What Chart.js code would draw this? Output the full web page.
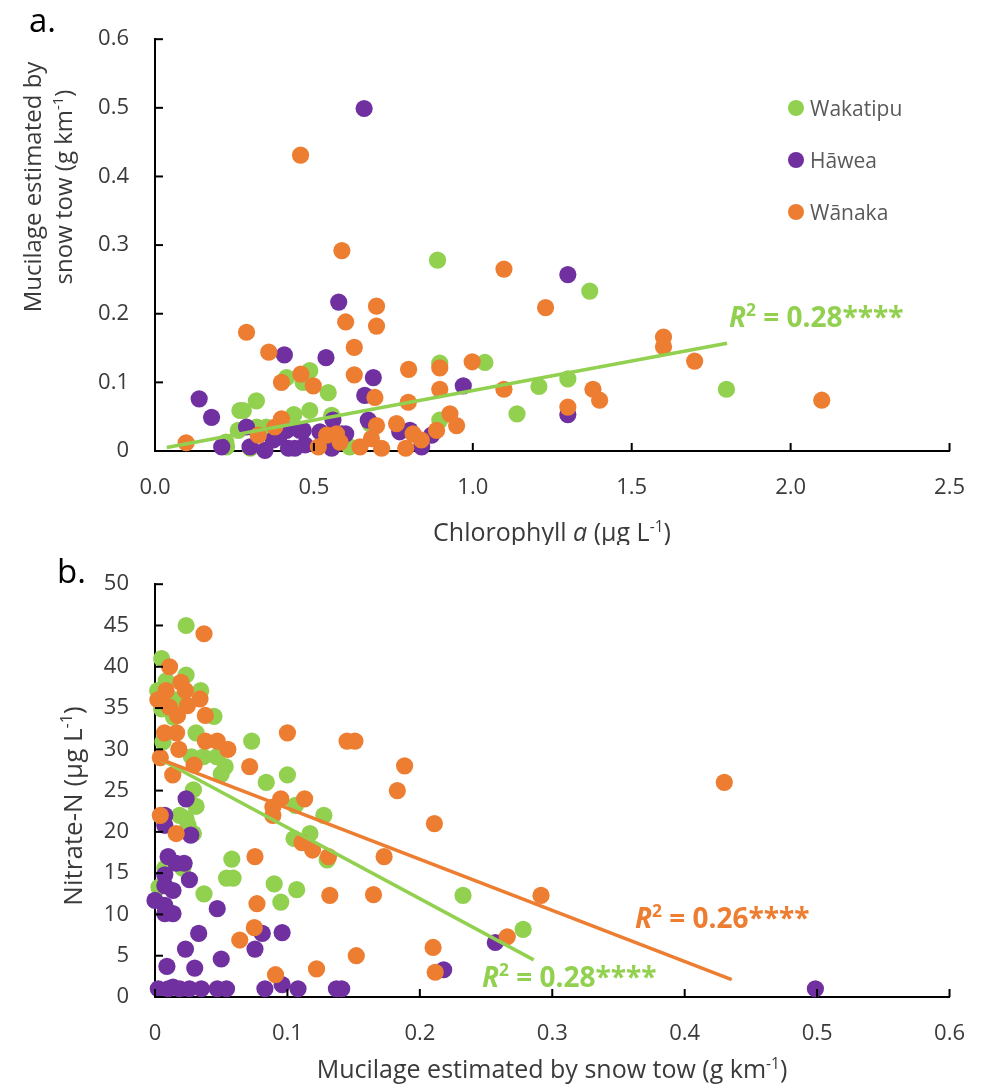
<!DOCTYPE html>
<html>
<head>
<meta charset="utf-8">
<script src="https://cdn.jsdelivr.net/npm/chart.js@4.4.1/dist/chart.umd.min.js"></script>
<style>
  body { margin: 0; background: #fff; }
  #wrap { position: relative; width: 989px; height: 1087px; }
  canvas { position: absolute; left: 0; }
  #chartA { top: 0; }
  #chartB { top: 545px; }
</style>
</head>
<body>
<div id="wrap">
  <canvas id="chartA" width="989" height="545"></canvas>
  <canvas id="chartB" width="989" height="542"></canvas>
</div>
<script>
// colours of the three lakes
const GREEN = '#92D050', PURPLE = '#7030A0', ORANGE = '#ED7D31';
const TEXT = '#3a3a3a';

// ---- panel a: chlorophyll a (x) vs mucilage (y) ----
const aWakatipu = [
  [0.225,0.006],[0.223,0.013],[0.262,0.030],[0.267,0.059],[0.278,0.059],[0.300,0.004],
  [0.319,0.073],[0.320,0.035],[0.350,0.035],[0.414,0.107],[0.437,0.053],[0.466,0.100],
  [0.487,0.117],[0.487,0.059],[0.545,0.085],[0.556,0.052],[0.613,0.006],[0.676,0.040],
  [0.889,0.278],[0.896,0.128],[0.896,0.045],[1.038,0.129],[1.139,0.054],[1.208,0.094],
  [1.299,0.105],[1.368,0.233],[1.798,0.090]
];
const aHawea = [
  [0.139,0.076],[0.178,0.049],[0.210,0.006],[0.288,0.035],[0.299,0.006],[0.346,0.001],
  [0.372,0.016],[0.390,0.020],[0.407,0.140],[0.414,0.030],[0.420,0.004],[0.440,0.004],
  [0.456,0.030],[0.466,0.030],[0.472,0.009],[0.519,0.028],[0.538,0.136],[0.556,0.004],
  [0.560,0.045],[0.578,0.217],[0.587,0.025],[0.600,0.025],[0.658,0.499],[0.660,0.081],
  [0.671,0.045],[0.687,0.107],[0.770,0.028],[0.802,0.030],[0.839,0.006],[0.870,0.023],
  [0.970,0.095],[1.299,0.257],[1.299,0.053]
];
const aWanaka = [
  [0.098,0.012],[0.288,0.173],[0.325,0.023],[0.358,0.144],[0.377,0.035],[0.398,0.100],
  [0.398,0.047],[0.458,0.431],[0.459,0.112],[0.498,0.095],[0.514,0.006],[0.540,0.023],
  [0.571,0.025],[0.582,0.013],[0.588,0.292],[0.600,0.188],[0.627,0.151],[0.627,0.111],
  [0.645,0.006],[0.681,0.018],[0.692,0.078],[0.697,0.211],[0.697,0.182],[0.697,0.037],
  [0.713,0.004],[0.760,0.040],[0.789,0.004],[0.797,0.071],[0.798,0.119],[0.812,0.025],
  [0.838,0.016],[0.886,0.030],[0.896,0.121],[0.896,0.090],[0.928,0.054],[0.949,0.037],
  [0.998,0.130],[1.098,0.265],[1.098,0.090],[1.229,0.209],[1.299,0.064],[1.378,0.090],
  [1.399,0.074],[1.600,0.166],[1.600,0.152],[1.698,0.131],[2.098,0.074]
];
const aTrendWakatipu = [[0.037,0.005],[1.8,0.157]];

// ---- panel b: mucilage (x) vs nitrate-N (y) ----
const bWakatipu = [
  [0.0235,45.0],[0.0050,41.0],[0.0235,39.0],[0.0085,38.3],[0.0020,37.1],[0.0345,37.1],
  [0.0160,36.0],[0.0050,34.9],[0.0140,33.9],[0.0445,34.0],[0.0310,32.0],[0.0060,30.9],
  [0.0730,31.0],[0.0275,29.1],[0.0365,29.1],[0.0465,29.1],[0.0530,27.9],[0.0500,27.0],
  [0.0840,26.0],[0.1000,26.9],[0.0290,25.1],[0.0310,23.1],[0.0186,22.0],[0.0235,21.6],
  [0.0250,20.8],[0.0290,19.8],[0.1060,23.2],[0.1275,22.0],[0.1050,19.2],[0.1170,19.8],
  [0.1300,16.6],[0.0580,16.7],[0.0540,14.4],[0.0590,14.4],[0.0074,15.6],[0.0210,15.6],
  [0.0030,13.3],[0.0370,12.5],[0.0900,13.7],[0.0950,11.5],[0.1070,13.0],[0.2326,12.3],
  [0.2780,8.2]
];
const bHawea = [
  [0.0235,24.0],[0.0074,22.0],[0.0074,20.8],[0.0270,19.6],[0.0099,17.0],[0.0160,16.2],
  [0.0220,16.2],[0.0074,14.8],[0.0260,14.2],[0.0074,13.5],[0.0136,12.9],[0.0000,11.7],
  [0.0074,11.1],[0.0074,10.1],[0.0136,10.1],[0.0470,10.7],[0.0330,7.7],[0.0810,7.7],
  [0.0960,7.8],[0.0230,5.8],[0.0755,5.8],[0.0500,4.6],[0.0090,3.7],[0.0300,3.5],
  [0.0025,1.0],[0.0099,1.0],[0.0136,1.2],[0.0186,1.0],[0.0260,1.0],[0.0350,1.0],
  [0.0470,1.0],[0.0540,1.0],[0.0830,1.0],[0.0960,1.5],[0.1080,1.0],[0.1370,1.0],
  [0.1410,1.0],[0.2180,3.3],[0.2570,6.6],[0.4987,1.0]
];
const bWanaka = [
  [0.0370,44.0],[0.0110,40.0],[0.0196,38.1],[0.0084,37.1],[0.0230,37.1],[0.0022,36.0],
  [0.0340,36.1],[0.0245,35.3],[0.0110,35.1],[0.0170,34.1],[0.0380,34.1],[0.0072,32.0],
  [0.0163,32.0],[0.1000,32.0],[0.0180,30.0],[0.0380,31.0],[0.0470,31.0],[0.0550,30.0],
  [0.0040,29.0],[0.0295,28.1],[0.0715,27.9],[0.0134,26.9],[0.0040,22.0],[0.0160,19.8],
  [0.0950,24.0],[0.1130,24.0],[0.0890,23.0],[0.0890,22.0],[0.1110,18.7],[0.1190,17.8],
  [0.1310,17.0],[0.0755,17.0],[0.0770,11.3],[0.1320,12.3],[0.0750,8.4],[0.0640,6.9],
  [0.0910,2.7],[0.1220,3.4],[0.1520,5.0],[0.1450,31.0],[0.1510,31.0],[0.1885,28.0],
  [0.1830,25.0],[0.2110,21.0],[0.1730,17.0],[0.1650,12.4],[0.2915,12.3],[0.2660,7.3],
  [0.2100,6.0],[0.2116,3.0],[0.4299,26.0]
];
const bTrendWakatipu = [[0.004,28.8],[0.286,4.5]];
const bTrendWanaka = [[0.004,28.8],[0.4355,2.1]];

const lakeNames = ['Wakatipu', 'Hāwea', 'Wānaka'];
const lakeColors = [GREEN, PURPLE, ORANGE];

Chart.defaults.font.family = '"Open Sans", sans-serif';
Chart.defaults.color = TEXT;

function fontFor(kind, size) {
  const bold = kind.includes('b') ? '700 ' : '';
  const ital = kind.includes('i') ? 'italic ' : '';
  const sz = kind.includes('^') ? size * 0.62 : size;
  return ital + bold + sz + 'px "Open Sans"';
}

// draw a run of text pieces, some italic / superscript
function drawRich(ctx, parts, x, y, size, color, align) {
  let w = 0;
  parts.forEach(p => { ctx.font = fontFor(p[1], size); w += ctx.measureText(p[0]).width; });
  let cx = align === 'center' ? x - w / 2 : x;
  ctx.fillStyle = color;
  ctx.textAlign = 'left';
  ctx.textBaseline = 'alphabetic';
  parts.forEach(p => {
    ctx.font = fontFor(p[1], size);
    const dy = p[1].includes('^') ? -size * 0.38 : 0;
    ctx.fillText(p[0], cx, y + dy);
    cx += ctx.measureText(p[0]).width;
  });
}

const decor = {
  id: 'decor',
  afterDraw(chart, args, o) {
    const ctx = chart.ctx;
    const area = chart.chartArea;
    const xs = chart.scales.x, ys = chart.scales.y;
    ctx.save();
    // inside tick marks
    ctx.strokeStyle = '#000';
    ctx.lineWidth = 2;
    xs.ticks.forEach(t => {
      const p = xs.getPixelForValue(t.value);
      ctx.beginPath(); ctx.moveTo(p, area.bottom); ctx.lineTo(p, area.bottom - 8); ctx.stroke();
    });
    ys.ticks.forEach(t => {
      const p = ys.getPixelForValue(t.value);
      ctx.beginPath(); ctx.moveTo(area.left, p); ctx.lineTo(area.left + 8, p); ctx.stroke();
    });

    // panel letter
    drawRich(ctx, [[o.letter, 'n']], o.letterX, o.letterY, 33, '#000', 'left');

    // axis titles
    drawRich(ctx, o.xTitle, o.xTitleX, o.xTitleY, 25, TEXT, 'center');
    o.yTitle.forEach((line, i) => {
      ctx.save();
      ctx.translate(o.yTitleX[i], o.yTitleY);
      ctx.rotate(-Math.PI / 2);
      drawRich(ctx, line, 0, 0, o.yTitleSize, TEXT, 'center');
      ctx.restore();
    });

    // R squared labels
    (o.rLabels || []).forEach(r => {
      drawRich(ctx, [['R', 'bi'], ['2', 'b^'], [' = ' + r.value + '****', 'b']], r.x, r.y, 28, r.color, 'left');
    });

    // legend
    if (o.legend) {
      lakeNames.forEach((name, i) => {
        const cy = o.legend.y + i * o.legend.gap;
        ctx.fillStyle = lakeColors[i];
        ctx.beginPath(); ctx.arc(o.legend.x, cy, 8, 0, Math.PI * 2); ctx.fill();
        drawRich(ctx, [[name, 'n']], o.legend.x + 14, cy + 7.5, 21, '#595959', 'left');
      });
    }
    ctx.restore();
  }
};

function scatterSet(data, color, order) {
  return {
    type: 'scatter', data: data, order: order,
    backgroundColor: color, borderWidth: 0,
    pointRadius: 8.6, pointHoverRadius: 8.6, clip: false
  };
}
function trendSet(data, color) {
  return {
    type: 'line', data: data, order: 0,
    borderColor: color, borderWidth: 3.5,
    pointRadius: 0, fill: false, clip: false
  };
}

function axes(xMin, xMax, xStep, yMin, yMax, yStep, xFmt, yFmt, xHeight) {
  const common = {
    grid: { display: false, drawTicks: false },
    border: { display: true, color: '#000', width: 2 }
  };
  return {
    x: Object.assign({
      type: 'linear', min: xMin, max: xMax,
      ticks: { stepSize: xStep, callback: xFmt, padding: 24, color: TEXT, font: { size: 22 } },
      afterFit: s => { s.height = xHeight; }
    }, common),
    y: Object.assign({
      type: 'linear', min: yMin, max: yMax,
      ticks: { stepSize: yStep, callback: yFmt, padding: 26, color: TEXT, font: { size: 22 } },
      afterFit: s => { s.width = 155; }
    }, common)
  };
}

const fmt1 = v => v.toFixed(1);
const fmt0or1 = v => (Math.abs(v) < 1e-9 ? '0' : v.toFixed(1));

new Chart(document.getElementById('chartA'), {
  type: 'scatter',
  data: {
    datasets: [
      trendSet(aTrendWakatipu, GREEN),
      scatterSet(aWanaka, ORANGE, 1),
      scatterSet(aHawea, PURPLE, 2),
      scatterSet(aWakatipu, GREEN, 3)
    ]
  },
  options: {
    responsive: false, animation: false,
    layout: { padding: { top: 34, right: 39, left: 0, bottom: 0 } },
    scales: axes(0, 2.5, 0.5, 0, 0.6, 0.1, fmt1, fmt0or1, 545 - 451),
    plugins: {
      legend: { display: false }, tooltip: { enabled: false },
      decor: {
        letter: 'a.', letterX: 29, letterY: 32,
        xTitle: [['Chlorophyll ', 'n'], ['a', 'i'], [' (μg L', 'n'], ['-1', '^'], [')', 'n']],
        xTitleX: 552, xTitleY: 541,
        yTitle: [
          [['Mucilage estimated by', 'n']],
          [['snow tow (g km', 'n'], ['-1', '^'], [')', 'n']]
        ],
        yTitleX: [41, 72], yTitleY: 187, yTitleSize: 24,
        rLabels: [{ value: '0.28', x: 729, y: 327, color: GREEN }],
        legend: { x: 796, y: 108, gap: 52 }
      }
    }
  },
  plugins: [decor]
});

new Chart(document.getElementById('chartB'), {
  type: 'scatter',
  data: {
    datasets: [
      trendSet(bTrendWanaka, ORANGE),
      trendSet(bTrendWakatipu, GREEN),
      scatterSet(bWanaka, ORANGE, 1),
      scatterSet(bHawea, PURPLE, 2),
      scatterSet(bWakatipu, GREEN, 3)
    ]
  },
  options: {
    responsive: false, animation: false,
    layout: { padding: { top: 33, right: 26, left: 0, bottom: 0 } },
    scales: axes(0, 0.6, 0.1, 0, 50, 5, fmt0or1, v => String(v), 542 - 452),
    plugins: {
      legend: { display: false }, tooltip: { enabled: false },
      decor: {
        letter: 'b.', letterX: 57, letterY: 38,
        xTitle: [['Mucilage estimated by snow tow (g km', 'n'], ['-1', '^'], [')', 'n']],
        xTitleX: 552, xTitleY: 533,
        yTitle: [[['Nitrate-N (μg L', 'n'], ['-1', '^'], [')', 'n']]],
        yTitleX: [82], yTitleY: 261, yTitleSize: 26,
        rLabels: [
          { value: '0.26', x: 635, y: 383, color: ORANGE },
          { value: '0.28', x: 482, y: 442, color: GREEN }
        ]
      }
    }
  },
  plugins: [decor]
});
</script>
</body>
</html>
